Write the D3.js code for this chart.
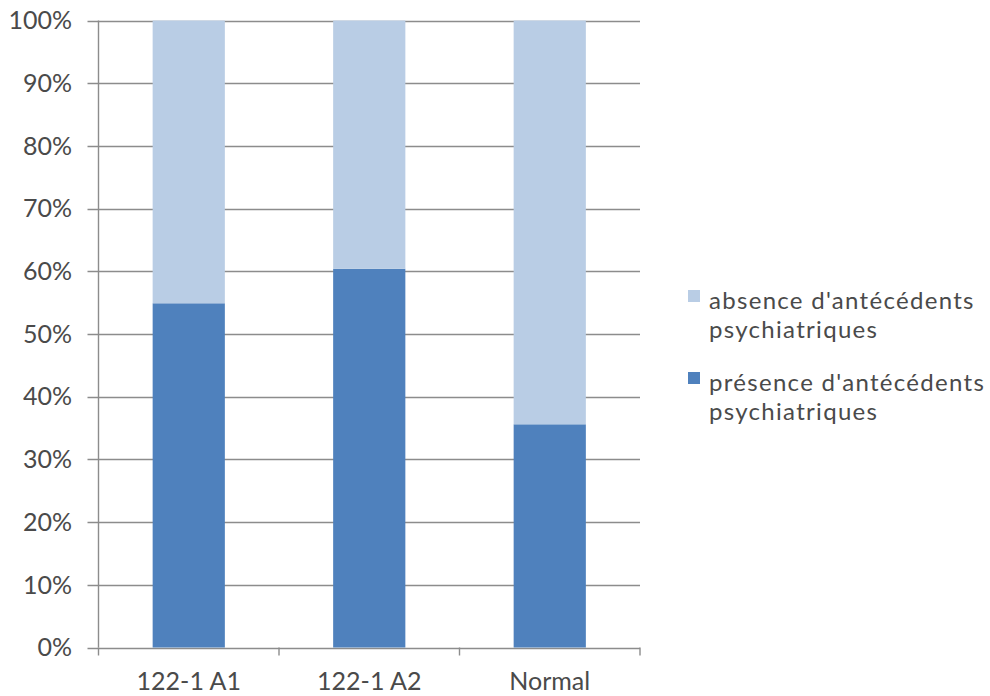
<!DOCTYPE html>
<html>
<head>
<meta charset="utf-8">
<script src="https://cdn.jsdelivr.net/npm/d3@7/dist/d3.min.js"></script>
<style>
  html, body { margin: 0; padding: 0; background: #fff; }
  svg text { font-family: Lato, "Open Sans", sans-serif; fill: #4a4a4a; }
</style>
</head>
<body>
<svg id="chart" width="990" height="696"></svg>
<script>
// Share of patients with / without a psychiatric history, per group
const categories = ["122-1 A1", "122-1 A2", "Normal"];
const presence = [0.549, 0.604, 0.356];
const absence = presence.map(v => 1 - v);
const yTicks = [0, 0.1, 0.2, 0.3, 0.4, 0.5, 0.6, 0.7, 0.8, 0.9, 1.0];
const legendLabels = {
  absence: ["absence d'antécédents", "psychiatriques"],
  presence: ["présence d'antécédents", "psychiatriques"]
};

const colors = { presence: "#4f81bd", absence: "#b9cde5" };

const svg = d3.select("#chart");
const plotLeft = 98.5, plotRight = 640, plotTop = 20.5, plotBottom = 647.5;

const x = d3.scaleBand().domain(categories).range([plotLeft, plotRight])
  .paddingInner(0.6).paddingOuter(0.3);
const y = d3.scaleLinear().domain([0, 1]).range([plotBottom, plotTop]);

const rows = categories.map((c, i) => ({ cat: c, presence: presence[i], absence: absence[i] }));
const stacked = d3.stack().keys(["presence", "absence"])(rows);

// horizontal gridlines (they run through the tick marks on the left)
svg.append("g").selectAll("line").data(yTicks).join("line")
  .attr("x1", plotLeft - 11).attr("x2", plotRight)
  .attr("y1", d => Math.round(y(d)) + 0.5).attr("y2", d => Math.round(y(d)) + 0.5)
  .attr("stroke", "#8c8c8c").attr("stroke-width", 1.4);

// stacked bars
svg.append("g").selectAll("g").data(stacked).join("g")
  .attr("fill", d => colors[d.key])
  .selectAll("rect").data(d => d).join("rect")
  .attr("x", d => x(d.data.cat))
  .attr("width", x.bandwidth())
  .attr("y", d => y(d[1]))
  .attr("height", d => y(d[0]) - y(d[1]));

// vertical axis line
svg.append("line")
  .attr("x1", plotLeft).attr("x2", plotLeft).attr("y1", plotTop).attr("y2", plotBottom)
  .attr("stroke", "#8c8c8c").attr("stroke-width", 1.4);

// category separators below the baseline
const sepX = [plotLeft].concat(categories.map(c => x(c) + x.bandwidth() / 2 + x.step() / 2));
svg.append("g").selectAll("line").data(sepX).join("line")
  .attr("x1", d => d).attr("x2", d => d)
  .attr("y1", plotBottom).attr("y2", plotBottom + 8)
  .attr("stroke", "#8c8c8c").attr("stroke-width", 1.4);

// y tick labels
svg.append("g").selectAll("text").data(yTicks).join("text")
  .attr("x", 72).attr("y", d => y(d))
  .attr("dy", "0.35em").attr("text-anchor", "end")
  .attr("font-size", 25)
  .text(d => d3.format(".0%")(d));

// category labels
svg.append("g").selectAll("text").data(categories).join("text")
  .attr("x", d => x(d) + x.bandwidth() / 2).attr("y", 690)
  .attr("text-anchor", "middle").attr("font-size", 25)
  .text(d => d);

// legend: absence first, then presence
const legendItems = [
  { key: "absence", baseline: 309 },
  { key: "presence", baseline: 391 }
];
const lineGap = 29;
const lg = svg.append("g").selectAll("g").data(legendItems).join("g");
lg.append("rect")
  .attr("x", 688).attr("y", d => d.baseline - 19).attr("width", 12).attr("height", 12)
  .attr("fill", d => colors[d.key]);
lg.append("g").selectAll("text")
  .data(d => legendLabels[d.key].map((t, i) => ({ t, yy: d.baseline + i * lineGap })))
  .join("text")
  .attr("x", 709).attr("y", d => d.yy)
  .attr("font-size", 24).attr("letter-spacing", 1.3)
  .text(d => d.t);
</script>
</body>
</html>
